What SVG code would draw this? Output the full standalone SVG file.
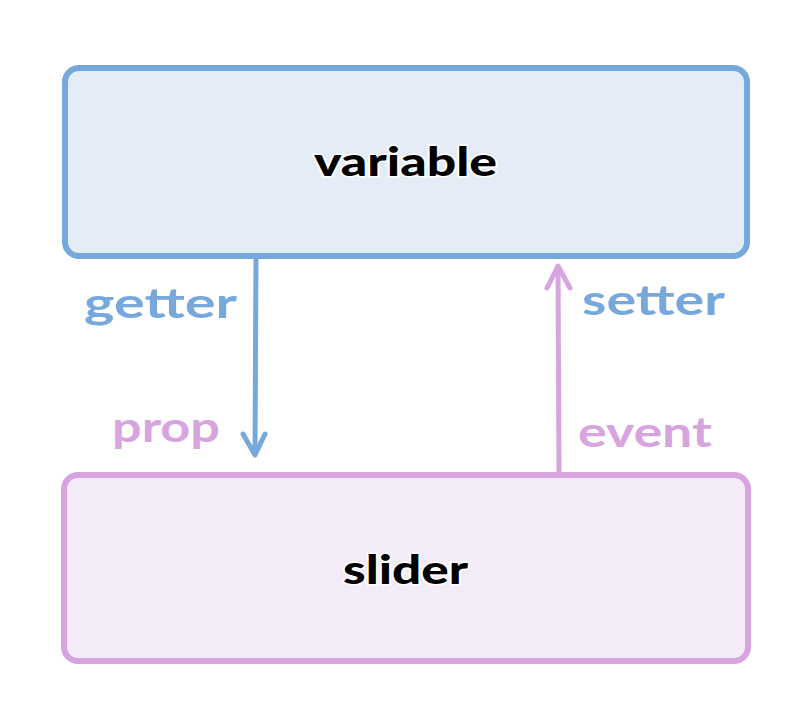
<svg xmlns="http://www.w3.org/2000/svg" width="811" height="727" viewBox="0 0 811 727">
<style>
.lbl{font-family:"Lato","Noto Sans",sans-serif;font-weight:bold;font-size:42px}
.node{font-family:"Lato","Noto Sans",sans-serif;font-weight:900;font-size:40px;fill:#000;stroke:#fff;stroke-width:3px;paint-order:stroke}
.blue{fill:#77a8dc}
.pink{fill:#d7a4e0}
</style>
<rect width="811" height="727" fill="#fff"/>
<g id="variable">
<rect x="65" y="68" width="682" height="188" rx="14" fill="#e4edf7" stroke="#77a8dc" stroke-width="6"/>
<text class="node" x="314" y="176" textLength="183" lengthAdjust="spacingAndGlyphs">variable</text>
</g>
<g id="slider">
<rect x="64" y="475" width="684" height="186" rx="14" fill="#f4ebf8" stroke="#d7a4e0" stroke-width="6"/>
<text class="node" x="343" y="584" textLength="125" lengthAdjust="spacingAndGlyphs">slider</text>
</g>
<g id="connectors" fill="none" stroke-width="5" stroke-linecap="round" stroke-linejoin="round">
<path d="M256 258 L255 452" stroke="#77a8dc"/>
<path d="M243 434 L255 455 L265 434" stroke="#77a8dc"/>
<path d="M559 473 L558 268" stroke="#d7a4e0"/>
<path d="M547 288 L558 266 L570 288" stroke="#d7a4e0"/>
</g>
<g id="labels">
<text class="lbl blue" x="84" y="318" textLength="153" lengthAdjust="spacingAndGlyphs">getter</text>
<text class="lbl pink" x="112" y="442" textLength="108" lengthAdjust="spacingAndGlyphs">prop</text>
<text class="lbl blue" x="582" y="315" textLength="143" lengthAdjust="spacingAndGlyphs">setter</text>
<text class="lbl pink" x="578" y="447" textLength="134" lengthAdjust="spacingAndGlyphs">event</text>
</g>
</svg>
